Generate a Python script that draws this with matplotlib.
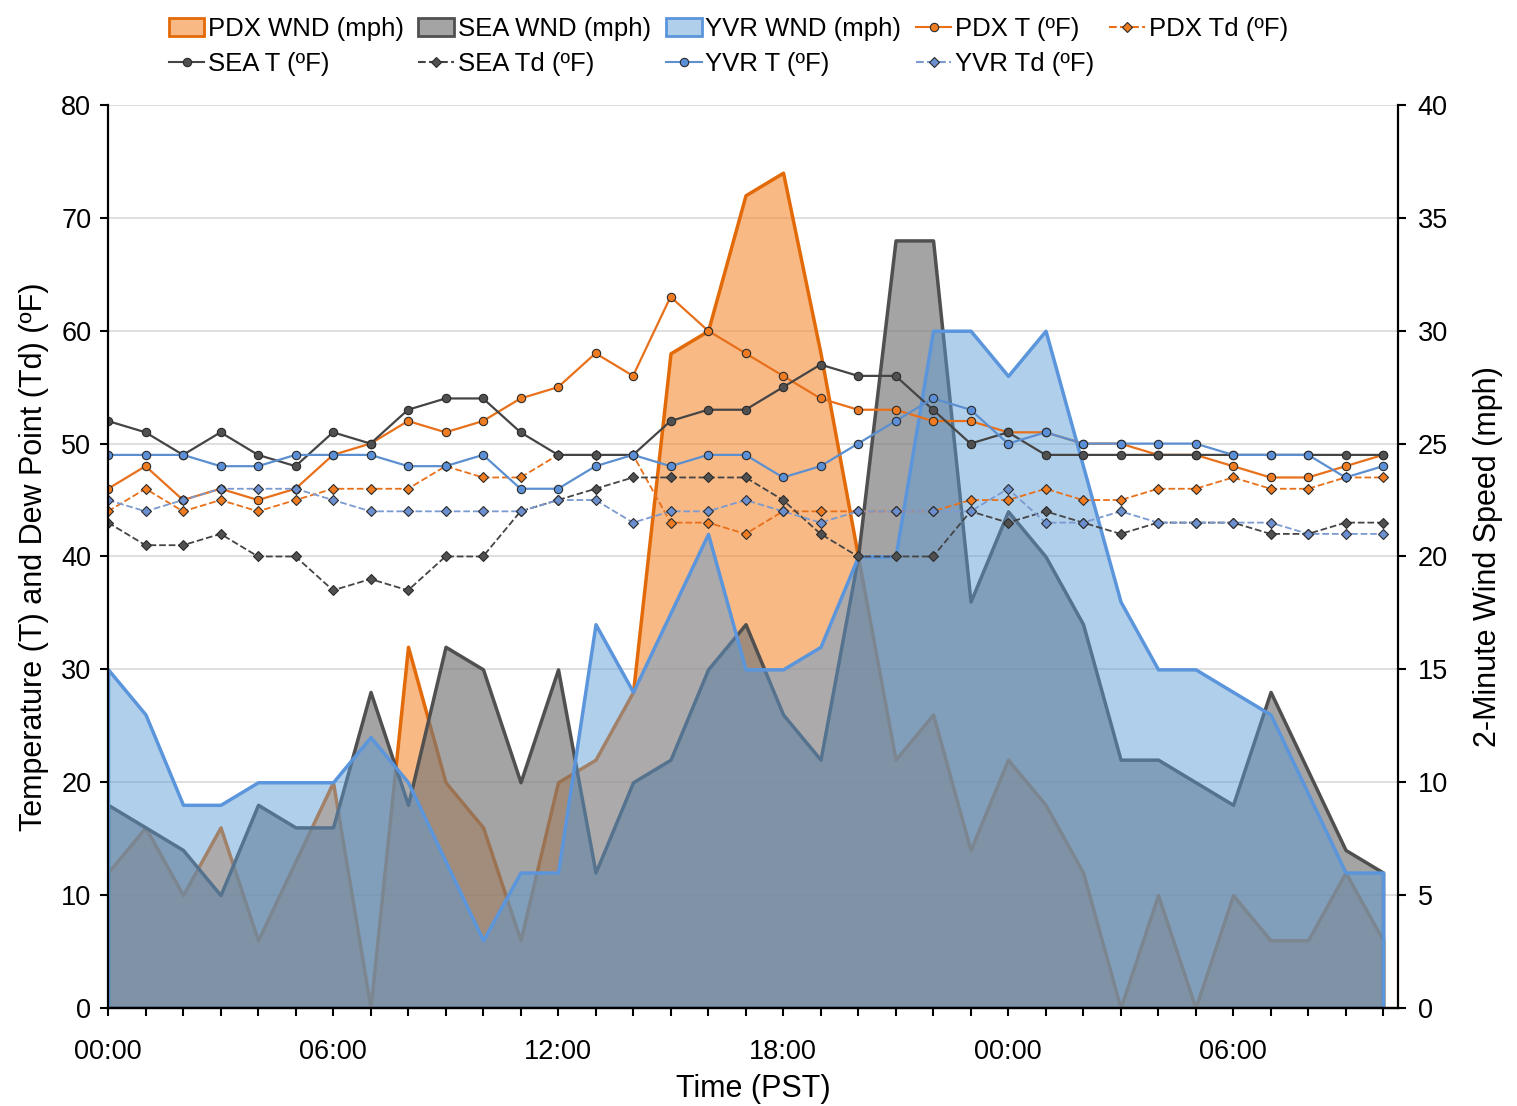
import numpy as np
import matplotlib.pyplot as plt
from matplotlib.colors import to_rgba
from matplotlib.patches import Patch
from matplotlib.lines import Line2D

plt.rcParams['font.family'] = ['Liberation Sans', 'DejaVu Sans']

# hourly obs, hour 0 = 00:00 PST on day 1
hours = np.arange(35)
tick_hours = [0, 6, 12, 18, 24, 30]
tick_labels = ['00:00', '06:00', '12:00', '18:00', '00:00', '06:00']

# temperature / dew point (F)
pdx_t = [46, 48, 45, 46, 45, 46, 49, 50, 52, 51, 52, 54, 55, 58, 56, 63, 60, 58, 56, 54, 53, 53,
         52, 52, 51, 51, 50, 50, 49, 49, 48, 47, 47, 48, 49]
pdx_td = [44, 46, 44, 45, 44, 45, 46, 46, 46, 48, 47, 47, 49, 49, 49, 43, 43, 42, 44, 44, 44, 44,
          44, 45, 45, 46, 45, 45, 46, 46, 47, 46, 46, 47, 47]
sea_t = [52, 51, 49, 51, 49, 48, 51, 50, 53, 54, 54, 51, 49, 49, 49, 52, 53, 53, 55, 57, 56, 56,
         53, 50, 51, 49, 49, 49, 49, 49, 49, 49, 49, 49, 49]
sea_td = [43, 41, 41, 42, 40, 40, 37, 38, 37, 40, 40, 44, 45, 46, 47, 47, 47, 47, 45, 42, 40, 40,
          40, 44, 43, 44, 43, 42, 43, 43, 43, 42, 42, 43, 43]
yvr_t = [49, 49, 49, 48, 48, 49, 49, 49, 48, 48, 49, 46, 46, 48, 49, 48, 49, 49, 47, 48, 50, 52,
         54, 53, 50, 51, 50, 50, 50, 50, 49, 49, 49, 47, 48]
yvr_td = [45, 44, 45, 46, 46, 46, 45, 44, 44, 44, 44, 44, 45, 45, 43, 44, 44, 45, 44, 43, 44, 44,
          44, 44, 46, 43, 43, 44, 43, 43, 43, 43, 42, 42, 42]

# 2-minute wind (mph)
pdx_wnd = [6, 8, 5, 8, 3, 6.5, 10, 0, 16, 10, 8, 3, 10, 11, 14, 29, 30, 36, 37, 29, 20, 11,
           13, 7, 11, 9, 6, 0, 5, 0, 5, 3, 3, 6, 3]
sea_wnd = [9, 8, 7, 5, 9, 8, 8, 14, 9, 16, 15, 10, 15, 6, 10, 11, 15, 17, 13, 11, 20, 34,
           34, 18, 22, 20, 17, 11, 11, 10, 9, 14, 10.5, 7, 6]
yvr_wnd = [15, 13, 9, 9, 10, 10, 10, 12, 10, 6.5, 3, 6, 6, 17, 14, 17.5, 21, 15, 15, 16, 20, 20,
           30, 30, 28, 30, 24, 18, 15, 15, 14, 13, 9.5, 6, 6]

orange = '#E8701A'
gray = '#454545'
blue = '#5B8FD0'

fig = plt.figure(figsize=(15.17, 11.06), dpi=100)
ax_t = fig.add_axes([0.0712, 0.0886, 0.8504, 0.8165])
ax_w = ax_t.twinx()
# temps on top of the wind areas
ax_t.set_zorder(ax_w.get_zorder() + 1)
ax_t.patch.set_visible(False)

# wind areas (right axis)
pdx_face = to_rgba('#F48E3A', 0.62)
sea_face = to_rgba('#787878', 0.67)
yvr_face = to_rgba('#5B9BD5', 0.48)
ax_w.fill_between(hours, pdx_wnd, facecolor=pdx_face, edgecolor='#E36A08', linewidth=2.5)
ax_w.fill_between(hours, sea_wnd, facecolor=sea_face, edgecolor='#505050', linewidth=2.5)
ax_w.fill_between(hours, yvr_wnd, facecolor=yvr_face, edgecolor='#5B95DC', linewidth=2.5)

# temperature / dew point lines (left axis)
mk = dict(markeredgecolor='#2b2b2b', markeredgewidth=0.8)
ax_t.plot(hours, pdx_t, '-o', color=orange, lw=1.6, ms=6, markerfacecolor='#F07C22', **mk)
ax_t.plot(hours, pdx_td, '--D', color=orange, lw=1.3, ms=5.5, markerfacecolor='#F07C22', **mk)
ax_t.plot(hours, sea_t, '-o', color=gray, lw=1.6, ms=6, markerfacecolor='#505050', **mk)
ax_t.plot(hours, sea_td, '--D', color=gray, lw=1.3, ms=5.5, markerfacecolor='#505050', **mk)
ax_t.plot(hours, yvr_t, '-o', color=blue, lw=1.6, ms=6, markerfacecolor='#5B8FD8', **mk)
ax_t.plot(hours, yvr_td, '--D', color='#7A9AD0', lw=1.3, ms=5.5, markerfacecolor='#6C8FD0', **mk)

ax_t.set_xlim(0, 34.4)
ax_t.set_ylim(0, 80)
ax_w.set_ylim(0, 40)
ax_t.set_yticks(np.arange(0, 81, 10))
ax_w.set_yticks(np.arange(0, 41, 5))
ax_t.set_xticks(tick_hours)
ax_t.set_xticklabels(tick_labels)
ax_t.set_xticks(hours, minor=True)

ax_w.grid(axis='y', color='#D9D9D9', linewidth=1.2)
ax_w.set_axisbelow(True)

for a in (ax_t, ax_w):
    a.spines['top'].set_visible(False)
    for s in ('left', 'right', 'bottom'):
        a.spines[s].set_linewidth(1.6)
        a.spines[s].set_color('black')
    a.tick_params(which='both', direction='out', length=6, width=1.5, labelsize=19.5, colors='black')
ax_t.spines['right'].set_visible(False)
ax_w.spines['left'].set_visible(False)
ax_t.tick_params(axis='x', pad=16)
ax_t.tick_params(axis='y', pad=6)
ax_w.tick_params(axis='y', pad=8)

ax_t.set_xlabel('Time (PST)', fontsize=22, labelpad=7)
ax_t.set_ylabel('Temperature (T) and Dew Point (Td) (ºF)', fontsize=22, labelpad=9)
ax_w.set_ylabel('2-Minute Wind Speed (mph)', fontsize=22, labelpad=18)

# legend, order so rows read like the original
h_pdx_w = Patch(facecolor=pdx_face, edgecolor='#E36A08', linewidth=2)
h_sea_w = Patch(facecolor=sea_face, edgecolor='#505050', linewidth=2)
h_yvr_w = Patch(facecolor=yvr_face, edgecolor='#5B95DC', linewidth=2)
h_pdx_t = Line2D([], [], color=orange, marker='o', ms=6, markerfacecolor='#F07C22', **mk)
h_pdx_td = Line2D([], [], color=orange, ls='--', marker='D', ms=5.5, markerfacecolor='#F07C22', **mk)
h_sea_t = Line2D([], [], color=gray, marker='o', ms=6, markerfacecolor='#505050', **mk)
h_sea_td = Line2D([], [], color=gray, ls='--', marker='D', ms=5.5, markerfacecolor='#505050', **mk)
h_yvr_t = Line2D([], [], color=blue, marker='o', ms=6, markerfacecolor='#5B8FD8', **mk)
h_yvr_td = Line2D([], [], color='#7A9AD0', ls='--', marker='D', ms=5.5, markerfacecolor='#6C8FD0', **mk)

handles = [h_pdx_w, h_sea_t, h_sea_w, h_sea_td, h_yvr_w, h_yvr_t, h_pdx_t, h_yvr_td, h_pdx_td]
labels = ['PDX WND (mph)', 'SEA T (ºF)', 'SEA WND (mph)', 'SEA Td (ºF)', 'YVR WND (mph)',
          'YVR T (ºF)', 'PDX T (ºF)', 'YVR Td (ºF)', 'PDX Td (ºF)']
fig.legend(handles, labels, loc='upper center', bbox_to_anchor=(0.48, 1.0), ncol=5,
           frameon=False, fontsize=18.5, handlelength=1.4, handletextpad=0.15,
           columnspacing=0.55, labelspacing=0.45, borderaxespad=0.25)

fig.savefig('out.png', dpi=100)
